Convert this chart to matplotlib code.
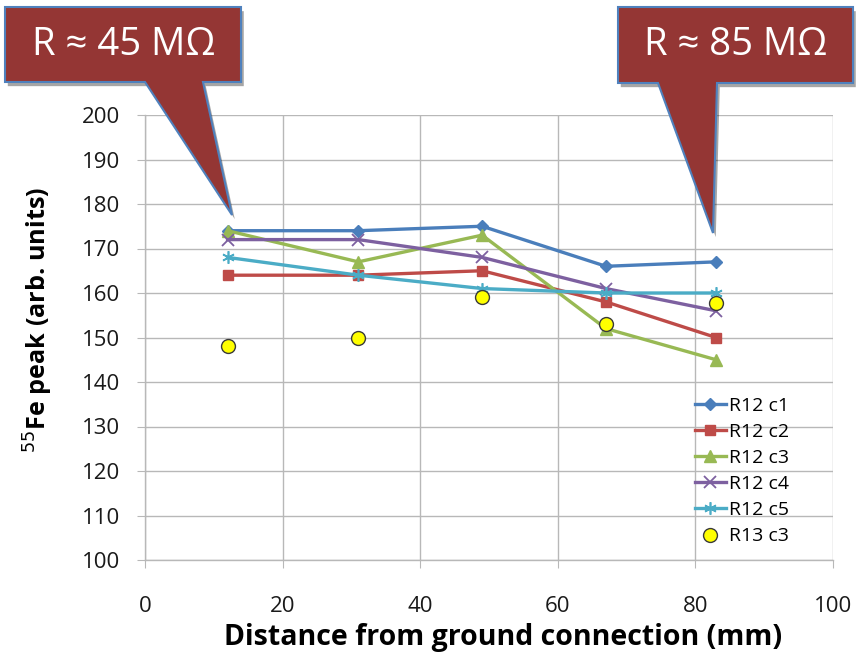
import matplotlib
matplotlib.use("Agg")
import matplotlib.pyplot as plt
from matplotlib.patches import Polygon
import matplotlib.patheffects as pe

plt.rcParams['font.family'] = ['Open Sans', 'DejaVu Sans']

# Distance from ground connection (mm)
distance = [12, 31, 49, 67, 83]

r12_c1 = [174, 174, 175, 166, 167]
r12_c2 = [164, 164, 165, 158, 150]
r12_c3 = [174, 167, 173, 152, 145]
r12_c4 = [172, 172, 168, 161, 156]
r12_c5 = [168, 164, 161, 160, 160]
r13_c3 = [148, 150, 159, 153, 157.7]

series_names = ["R12 c1", "R12 c2", "R12 c3", "R12 c4", "R12 c5", "R13 c3"]
x_ticks = [0, 20, 40, 60, 80, 100]
y_ticks = [100, 110, 120, 130, 140, 150, 160, 170, 180, 190, 200]
callout_texts = ["R \u2248 45 M\u03a9", "R \u2248 85 M\u03a9"]

W, H = 858, 658
fig = plt.figure(figsize=(W / 100, H / 100), dpi=100)
ax = fig.add_axes([145 / W, 1 - 560 / H, (833 - 145) / W, (560 - 115) / H])

grid_c = "#b8b8b8"
ax.set_xlim(0, 100)
ax.set_ylim(100, 200)
ax.set_xticks(x_ticks)
ax.set_yticks(y_ticks)
ax.grid(True, color=grid_c, linewidth=1.0)
ax.set_axisbelow(True)
for s in ["top", "right"]:
    ax.spines[s].set_visible(False)
for s in ["left", "bottom"]:
    ax.spines[s].set_color(grid_c)
    ax.spines[s].set_linewidth(1.0)
ax.tick_params(axis="both", direction="out", length=6, color=grid_c,
               labelsize=16, labelcolor="#1a1a1a")
ax.tick_params(axis="x", pad=20)
ax.tick_params(axis="y", pad=12)

styles = [
    dict(color="#4a7ebb", marker="D", ms=6),
    dict(color="#be4b48", marker="s", ms=7.5),
    dict(color="#98b954", marker="^", ms=8),
    dict(color="#7d60a0", marker="x", ms=8, mew=1.3),
    dict(color="#4bacc6", marker=(6, 2, 0), ms=9, mew=1.2),
]
for ys, name, st in zip([r12_c1, r12_c2, r12_c3, r12_c4, r12_c5],
                        series_names[:5], styles):
    ax.plot(distance, ys, label=name, linewidth=2.4, zorder=3, **st)

ax.plot(distance, r13_c3, linestyle="none", marker="o", ms=10,
        markerfacecolor="#ffff00", markeredgecolor="#3a3a3a", mew=1.0,
        label=series_names[5], zorder=4)

leg = ax.legend(loc="lower right", bbox_to_anchor=(0.957, 0.0), frameon=False,
                fontsize=14, handlelength=1.6, handletextpad=0.15,
                labelspacing=0.42, borderaxespad=0.35)

ax.set_ylabel("$^{55}$Fe peak (arb. units)", fontsize=18.2, fontweight="bold")
ax.yaxis.set_label_coords(-0.131, 0.54)
ax.set_xlabel("Distance from ground connection (mm)", fontsize=20.5,
              fontweight="bold")
ax.xaxis.set_label_coords(0.52, -0.142)


def px(points):
    return [(x / W, 1 - y / H) for x, y in points]


callouts = [
    ([(5, 7), (241, 7), (241, 82), (203, 82), (232, 215), (145, 82), (5, 82)],
     (124, 45)),
    ([(618, 7), (853, 7), (853, 83), (717, 83), (713, 233), (658, 83), (618, 83)],
     (736, 45)),
]
for (pts, (tx, ty)), txt in zip(callouts, callout_texts):
    poly = Polygon(px(pts), closed=True, transform=fig.transFigure,
                   facecolor="#943634", edgecolor="#4f81bd", linewidth=1.5,
                   zorder=10,
                   path_effects=[pe.SimplePatchShadow(offset=(2, -3),
                                                      shadow_rgbFace="#000000",
                                                      alpha=0.35),
                                 pe.Normal()])
    fig.patches.append(poly)
    fig.text(tx / W, 1 - ty / H, txt, color="white", fontsize=27.5,
             ha="center", va="center", zorder=11)

fig.savefig("out.png", dpi=100)
